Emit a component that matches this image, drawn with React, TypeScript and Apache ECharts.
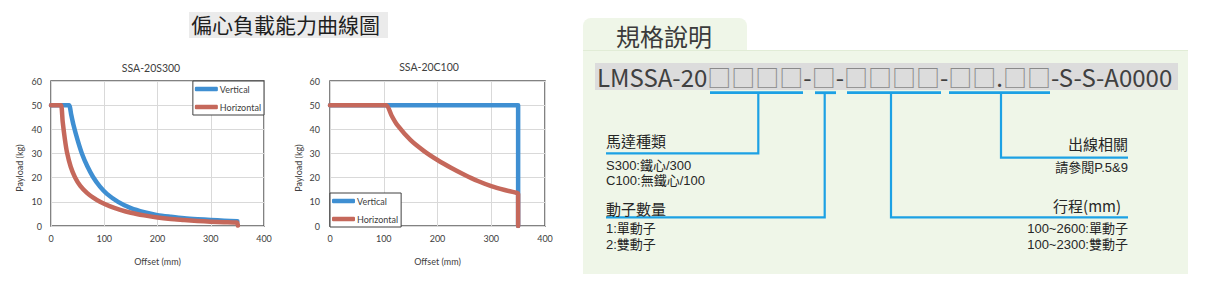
import React, { useEffect, useRef } from "react";
import * as echarts from "echarts";

// ---------- data ----------
const mainTitle = "偏心負載能力曲線圖";
const chartTitles = ["SSA-20S300", "SSA-20C100"];
const seriesNames = ["Vertical", "Horizontal"];
const xAxisName = "Offset (mm)";
const yAxisName = "Payload (kg)";

const s300Vertical: number[][] = [
  [0, 50], [30, 50], [34, 50], [38, 46], [42, 42], [50, 35.5], [58, 30], [68, 24.8], [79, 20.3], [92, 16.3],
  [105, 13.3], [126, 10], [150, 7.4], [175, 5.7], [200, 4.5], [225, 3.8], [250, 3.2],
  [275, 2.8], [300, 2.5], [325, 2.2], [350, 2.0],
];
const s300Horizontal: number[][] = [
  [0, 50], [16, 50], [19, 50], [22, 43], [26, 36], [30, 30.5], [37, 24.5], [45, 20.2], [55, 16.6],
  [68, 13.6], [80, 11.6], [92, 10], [110, 8.2], [130, 6.7], [150, 5.5], [175, 4.4],
  [200, 3.5], [225, 2.9], [250, 2.5], [275, 2.1], [300, 1.8], [325, 1.6], [349, 1.4], [350, 1.2], [351, 0.2],
];
const c100Vertical: number[][] = [[0, 50], [350, 50], [350, 0]];
const c100Horizontal: number[][] = [
  [0, 50], [100, 50], [105, 50], [115, 45.5], [125, 41.8], [150, 35.5], [175, 31], [200, 27.3],
  [225, 24.1], [250, 21.2], [275, 18.6], [300, 16.5], [325, 14.9], [349, 13.6], [350, 13.2], [350, 0],
];

const specTab = "規格說明";
const codePrefix = "LMSSA-20";
const codeSuffix = "-S-S-A0000";
const motorTitle = "馬達種類";
const motorItems = ["S300:鐵心/300", "C100:無鐵心/100"];
const moverTitle = "動子數量";
const moverItems = ["1:單動子", "2:雙動子"];
const cableTitle = "出線相關";
const cableItems = ["請參閱P.5&9"];
const strokeTitle = "行程(mm)";
const strokeItems = ["100~2600:單動子", "100~2300:雙動子"];

// ---------- styles ----------
const BLUE = "#3f8fd2";
const RED = "#c5685b";
const LINE_BLUE = "#1ca1e4";
const PANEL = "#eff6e8";
const CJK = "Noto Sans CJK TC";
const SMALL = "'Liberation Sans', 'Noto Sans CJK TC'";
const LAT = "Lato";
const TXT = "#262626";
const AX = "#404040";

export default function App() {
  const ref = useRef<HTMLDivElement>(null);

  useEffect(() => {
    if (!ref.current) return;
    const chart = echarts.init(ref.current, undefined, { renderer: "svg" });

    const grids = [
      { left: 51, top: 81, width: 213, height: 145 },
      { left: 330, top: 81, width: 215, height: 145 },
    ];

    const axisLabel = { fontSize: 9, color: AX, fontFamily: LAT };

    const cjkText = (
      text: string,
      x: number,
      y: number,
      size: number,
      align: string = "left",
      fill: string = TXT,
      family: string = CJK
    ) => ({
      type: "text",
      x,
      y,
      silent: true,
      style: {
        text,
        fontSize: size,
        fontFamily: family,
        fill,
        align,
        verticalAlign: "middle",
      },
    });

    const boxes = (n: number) => "{b|" + "□".repeat(n) + "}";
    const codeText =
      codePrefix + boxes(4) + "-" + boxes(1) + "-" + boxes(4) + "-" + boxes(2) + "." + boxes(2) + codeSuffix;

    const lineEl = (pts: number[][], w: number) => ({
      type: "polyline",
      silent: true,
      shape: { points: pts },
      style: { stroke: LINE_BLUE, lineWidth: w, fill: null },
    });
    const bar = (x1: number, x2: number) => ({
      type: "rect",
      silent: true,
      shape: { x: x1, y: 91.3, width: x2 - x1, height: 2.8 },
      style: { fill: LINE_BLUE },
    });

    const graphic: any[] = [
      // main title
      { type: "rect", silent: true, shape: { x: 189, y: 12, width: 199, height: 26 }, style: { fill: "#ebebeb" } },
      cjkText(mainTitle, 191, 24, 21, "left", "#1f1f1f"),
      // chart titles
      {
        type: "text", x: 151, y: 68, silent: true,
        style: { text: chartTitles[0], fontSize: 10.5, fontFamily: LAT, fill: AX, align: "center", verticalAlign: "middle" },
      },
      {
        type: "text", x: 429, y: 67, silent: true,
        style: { text: chartTitles[1], fontSize: 10.5, fontFamily: LAT, fill: AX, align: "center", verticalAlign: "middle" },
      },
      // y axis names
      {
        type: "text", x: 19, y: 168, rotation: Math.PI / 2, silent: true,
        style: { text: yAxisName, fontSize: 9, fontFamily: LAT, fill: AX, align: "center", verticalAlign: "middle" },
      },
      {
        type: "text", x: 298, y: 168, rotation: Math.PI / 2, silent: true,
        style: { text: yAxisName, fontSize: 9, fontFamily: LAT, fill: AX, align: "center", verticalAlign: "middle" },
      },
      // spec panel
      { type: "rect", silent: true, shape: { x: 583, y: 18, width: 164, height: 40, r: [8, 8, 0, 0] }, style: { fill: PANEL } },
      { type: "rect", silent: true, shape: { x: 583, y: 50, width: 605, height: 224 }, style: { fill: PANEL } },
      { type: "line", silent: true, shape: { x1: 583, y1: 50.5, x2: 1188, y2: 50.5 }, style: { stroke: "#e1ecd6", lineWidth: 1 } },
      cjkText(specTab, 616, 35, 24, "left", "#3b3b3b"),
      { type: "rect", silent: true, shape: { x: 595, y: 63, width: 583, height: 27 }, style: { fill: "#dcdcdc" } },
      {
        type: "text", x: 597, y: 76.5, silent: true,
        style: {
          text: codeText,
          fontSize: 24,
          fontFamily: CJK,
          fill: "#404040",
          align: "left",
          verticalAlign: "middle",
          rich: { b: { fontSize: 24, fontFamily: CJK, fill: "#8a8a8a" } },
        },
      },
      bar(710, 803),
      bar(815, 836),
      bar(847, 941),
      bar(949, 1050),
      lineEl([[758.3, 92], [758.3, 153.3], [606, 153.3]], 2.2),
      lineEl([[824.7, 92], [824.7, 217.3], [606, 217.3]], 2.2),
      lineEl([[891, 92], [891, 217.3], [1128, 217.3]], 2.2),
      lineEl([[1001, 92], [1001, 157.7], [1128, 157.7]], 2.2),
      cjkText(motorTitle, 606, 140, 15),
      cjkText(motorItems[0], 606, 165.7, 13, "left", TXT, SMALL),
      cjkText(motorItems[1], 606, 180.9, 13, "left", TXT, SMALL),
      cjkText(moverTitle, 606, 208.3, 15),
      cjkText(moverItems[0], 606, 228.3, 13, "left", TXT, SMALL),
      cjkText(moverItems[1], 606, 244, 13, "left", TXT, SMALL),
      cjkText(cableTitle, 1128, 143.5, 15, "right"),
      cjkText(cableItems[0], 1128, 167.7, 13, "right", TXT, SMALL),
      cjkText(strokeTitle, 1121, 205, 15, "right"),
      cjkText(strokeItems[0], 1128, 228.3, 13, "right", TXT, SMALL),
      cjkText(strokeItems[1], 1128, 244, 13, "right", TXT, SMALL),
    ];

    const mkSeries = (name: string, data: number[][], color: string, idx: number, smooth: number) => ({
      type: "line",
      name,
      data,
      xAxisIndex: idx,
      yAxisIndex: idx,
      showSymbol: false,
      symbol: "none",
      smooth,
      color,
      itemStyle: { color },
      lineStyle: { color, width: 4.5, cap: "round", join: "round" },
      z: name === "Horizontal" ? 3 : 2,
    });

    const legendBase = {
      data: seriesNames,
      orient: "vertical",
      icon: "roundRect",
      itemWidth: 23,
      itemHeight: 4.5,
      itemGap: 6,
      padding: [2, 3, 2, 2],
      borderColor: "#404040",
      borderWidth: 1,
      borderRadius: 0,
      backgroundColor: "#fff",
      selectedMode: false,
      textStyle: { fontSize: 9, color: AX, fontFamily: LAT, lineHeight: 12, padding: [0, 0, 0, -3] },
    };

    chart.setOption({
      animation: false,
      backgroundColor: "#fff",
      grid: grids.map((g) => ({
        ...g,
        show: true,
        borderColor: "#5a5a5a",
        borderWidth: 1.5,
        backgroundColor: "#fff",
        containLabel: false,
      })),
      xAxis: [0, 1].map((i) => ({
        type: "value",
        gridIndex: i,
        min: 0,
        max: 400,
        interval: 100,
        axisLine: { show: false },
        axisTick: { show: false },
        splitLine: { show: true, lineStyle: { color: "#d9d9d9", width: 1 } },
        axisLabel: { ...axisLabel, margin: 8 },
        name: xAxisName,
        nameLocation: "middle",
        nameGap: 31,
        nameTextStyle: { fontSize: 9, color: AX, fontFamily: LAT },
      })),
      yAxis: [0, 1].map((i) => ({
        type: "value",
        gridIndex: i,
        min: 0,
        max: 60,
        interval: 10,
        axisLine: { show: false },
        axisTick: { show: false },
        splitLine: { show: true, lineStyle: { color: "#d9d9d9", width: 1 } },
        axisLabel: { ...axisLabel, margin: i === 0 ? 9 : 10 },
      })),
      legend: [
        { ...legendBase, right: 949, top: 81 },
        { ...legendBase, left: 330, top: 193 },
      ],
      series: [
        mkSeries(seriesNames[0], s300Vertical, BLUE, 0, 0.25),
        mkSeries(seriesNames[1], s300Horizontal, RED, 0, 0.25),
        mkSeries(seriesNames[0], c100Vertical, BLUE, 1, 0),
        mkSeries(seriesNames[1], c100Horizontal, RED, 1, 0.25),
      ],
      graphic,
    });

    return () => chart.dispose();
  }, []);

  return (
    <div
      ref={ref}
      style={{ position: "fixed", left: 0, top: 0, width: 1213, height: 294, background: "#fff" }}
    />
  );
}
